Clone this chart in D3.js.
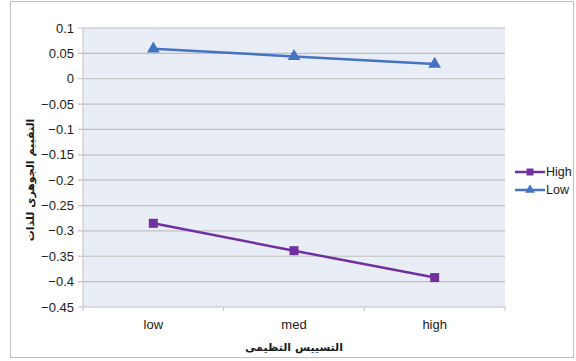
<!DOCTYPE html>
<html><head><meta charset="utf-8">
<script src="https://cdn.jsdelivr.net/npm/d3@7"></script>
<style>body{margin:0;background:#fff}svg{display:block}</style>
</head><body><svg id="c" width="576" height="361"></svg>
<script>
const categories = ["low", "med", "high"];
const seriesNames = ["High", "Low"];
const highValues = [-0.285, -0.339, -0.392];
const lowValues = [0.059, 0.044, 0.029];
const yTicks = [0.1, 0.05, 0, -0.05, -0.1, -0.15, -0.2, -0.25, -0.3, -0.35, -0.4, -0.45];
const xTitle = "التسييس التظيمى";
const yTitle = "التقييم الجوهرى للذات";

const svg = d3.select("#c");
const font = "'Liberation Sans', Arial, sans-serif";
svg.append("rect").attr("x",10.5).attr("y",1.5).attr("width",563).attr("height",356)
  .attr("fill","#fff").attr("stroke","#bfbfbf");
const L=83, R=505, T=28, B=307;
const x = d3.scaleBand().domain(categories).range([L,R]);
const y = d3.scaleLinear().domain([-0.45,0.1]).range([B,T]);
svg.append("rect").attr("x",L).attr("y",T).attr("width",R-L).attr("height",B-T).attr("fill","#e9edf6");
const g = svg.append("g");
yTicks.forEach(t=>{
  g.append("line").attr("x1",L-5).attr("x2",R).attr("y1",y(t)).attr("y2",y(t))
   .attr("stroke","#c0c0c0").attr("stroke-width",1.2);
  g.append("text").attr("x",L-9).attr("y",y(t)).attr("dy","0.35em").attr("text-anchor","end")
   .attr("font-family",font).attr("font-size",13).attr("fill","#1a1a1a").text(t===0?"0":d3.format("")(t));
});
g.append("line").attr("x1",L).attr("x2",L).attr("y1",T).attr("y2",B).attr("stroke","#c0c0c0");
const ticksX=[L, ...categories.slice(1).map(c=>x(c)), R];
ticksX.forEach(v=>g.append("line").attr("x1",v).attr("x2",v).attr("y1",B).attr("y2",B+4).attr("stroke","#c0c0c0"));
categories.forEach(c=>g.append("text").attr("x",x(c)+x.bandwidth()/2).attr("y",329).attr("text-anchor","middle")
  .attr("font-family",font).attr("font-size",13).attr("fill","#1a1a1a").text(c));
svg.append("text").attr("x",294).attr("y",351).attr("text-anchor","middle").attr("font-family","'DejaVu Sans', sans-serif")
  .attr("font-weight","bold").attr("font-size",11).attr("fill","#1a1a1a").text(xTitle);
svg.append("text").attr("transform","translate(34,180) rotate(-90)").attr("text-anchor","middle")
  .attr("font-family","'DejaVu Sans', sans-serif").attr("font-weight","bold").attr("font-size",11).attr("fill","#1a1a1a").text(yTitle);

const cx = c=>x(c)+x.bandwidth()/2;
const line = d3.line().x(d=>cx(d.c)).y(d=>y(d.v));
const series = [
  {name:seriesNames[0], vals:highValues, color:"#7030a0", sym:d3.symbolSquare, size:81},
  {name:seriesNames[1], vals:lowValues, color:"#4472c4", sym:d3.symbolTriangle, size:70}
];
series.forEach(s=>{
  const pts = categories.map((c,i)=>({c, v:s.vals[i]}));
  svg.append("path").attr("d",line(pts)).attr("fill","none").attr("stroke",s.color).attr("stroke-width",2.5);
  pts.forEach(p=>svg.append("path").attr("d",d3.symbol(s.sym,s.size)())
    .attr("transform",`translate(${cx(p.c)},${y(p.v)})`).attr("fill",s.color));
});
series.forEach((s,i)=>{
  const ly = 172 + i*18;
  svg.append("line").attr("x1",515).attr("x2",545).attr("y1",ly).attr("y2",ly).attr("stroke",s.color).attr("stroke-width",2.5);
  svg.append("path").attr("d",d3.symbol(s.sym,s.size*0.6)()).attr("transform",`translate(530,${ly})`).attr("fill",s.color);
  svg.append("text").attr("x",546).attr("y",ly).attr("dy","0.35em").attr("font-family",font).attr("font-size",12.5)
    .attr("fill","#1a1a1a").text(s.name);
});
</script></body></html>
